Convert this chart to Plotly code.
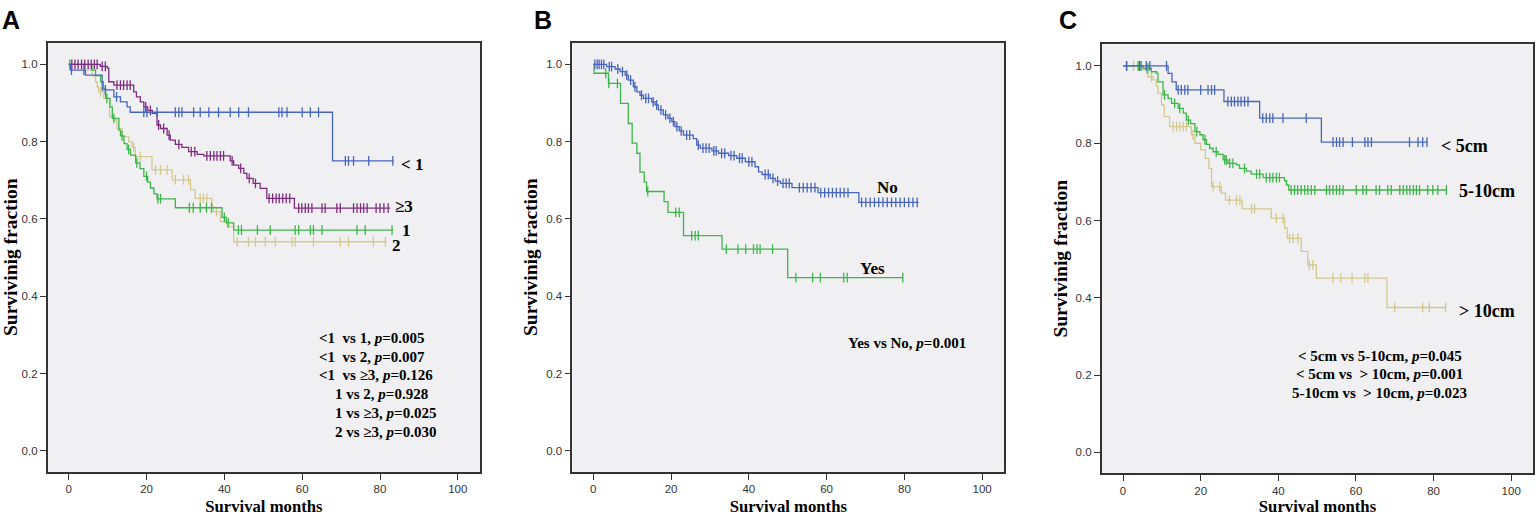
import numpy as np
import plotly.graph_objects as go

# ---------------- Panel A: number of ... (<1, 1, 2, >=3) ----------------
a_lt1_t = [0, 0.4, 4.3, 8.6, 11.6, 13.3, 15.0, 15.8, 67.8]
a_lt1_s = [1.0, 0.985, 0.972, 0.934, 0.916, 0.903, 0.890, 0.876, 0.750]
a_lt1_end = 83.5
a_lt1_cens = [0.7, 3.9, 9.4, 12.3, 19.3, 20.1, 22.7, 27.4, 28.3, 29.1, 32.1, 33.8,
              36.0, 38.5, 41.5, 43.7, 46.2, 54.0, 54.8, 56.1, 60.0, 62.1, 64.2,
              71.1, 71.9, 73.2, 77.1, 83.3]

a_ge3_t = [0, 8.1, 9.9, 10.3, 11.6, 16.7, 17.4, 18.4, 19.3, 20.3, 21.5, 22.7, 23.6,
           25.3, 26.1, 27.4, 29.1, 30.8, 33.0, 34.7, 41.5, 42.4, 43.7, 45.0, 45.8,
           47.4, 49.2, 50.9, 58.0]
a_ge3_s = [1.0, 0.995, 0.99, 0.955, 0.946, 0.929, 0.916, 0.903, 0.89, 0.881, 0.873,
           0.843, 0.834, 0.817, 0.804, 0.793, 0.785, 0.774, 0.767, 0.763, 0.75, 0.739,
           0.731, 0.718, 0.705, 0.692, 0.679, 0.653, 0.628]
a_ge3_end = 82.6
a_ge3_cens = [0.8, 1.6, 2.4, 3.3, 4.1, 5.0, 5.8, 6.6, 7.3, 8.6, 9.4, 12.4, 13.3, 14.1,
              15.0, 15.8, 19.8, 21.0, 23.1, 24.4, 25.8, 28.3, 31.5, 32.4, 35.5, 36.4,
              37.3, 38.1, 39.0, 39.8, 42.0, 44.2, 46.4, 48.0, 51.5, 52.4, 53.3, 54.1,
              55.0, 55.9, 56.8, 59.1, 59.9, 60.8, 61.6, 62.5, 65.1, 65.9, 68.9, 69.8,
              73.2, 74.1, 75.0, 75.8, 76.7, 79.0, 80.0, 81.0, 82.1]

a_1_t = [0, 6.0, 6.9, 8.2, 8.9, 9.5, 10.6, 11.2, 12.9, 13.3, 14.2, 15.0, 15.9, 17.2,
         18.3, 19.3, 20.3, 21.0, 21.9, 22.7, 27.4, 39.4, 40.5, 42.4]
a_1_s = [1.0, 0.985, 0.971, 0.955, 0.938, 0.912, 0.89, 0.86, 0.83, 0.815, 0.795, 0.78,
         0.765, 0.745, 0.73, 0.71, 0.695, 0.68, 0.665, 0.652, 0.629, 0.604, 0.59, 0.571]
a_1_end = 83.3
a_1_cens = [0.3, 9.8, 11.6, 13.7, 15.4, 17.5, 20.0, 22.9, 23.6, 31.0, 32.0, 33.8, 35.4,
            36.7, 40.0, 41.0, 43.6, 44.4, 48.5, 51.8, 58.2, 59.1, 62.1, 62.9, 65.1,
            74.1, 76.2, 83.1]

a_2_t = [0, 4.3, 6.0, 6.9, 7.3, 7.7, 9.0, 10.5, 11.6, 12.4, 13.7, 15.4, 16.3, 17.1,
         21.4, 26.6, 31.3, 32.5, 36.8, 37.2, 39.0, 40.7, 42.4]
a_2_s = [1.0, 0.985, 0.97, 0.955, 0.942, 0.929, 0.912, 0.865, 0.856, 0.834, 0.813, 0.8,
         0.785, 0.761, 0.727, 0.701, 0.675, 0.653, 0.632, 0.619, 0.593, 0.58, 0.541]
a_2_end = 81.8
a_2_cens = [8.2, 16.7, 18.4, 22.3, 23.6, 25.3, 27.4, 29.5, 30.8, 33.8, 34.6, 35.5, 38.0,
            43.3, 46.2, 48.0, 50.5, 53.1, 57.4, 58.2, 62.9, 69.8, 71.9, 78.3, 81.4]

a_pvals = ["&lt;1\u00a0\u00a0vs 1, <i>p</i>=0.005",
           "&lt;1\u00a0\u00a0vs 2, <i>p</i>=0.007",
           "&lt;1\u00a0\u00a0vs \u22653, <i>p</i>=0.126",
           "1 vs 2, <i>p</i>=0.928",
           "1 vs \u22653, <i>p</i>=0.025",
           "2 vs \u22653, <i>p</i>=0.030"]

# ---------------- Panel B: Yes / No ----------------
b_no_t = [0, 3.4, 5.6, 6.9, 8.2, 9.0, 10.3, 11.2, 12.0, 12.9, 15.0, 15.9, 16.7, 18.0,
          19.2, 20.2, 21.0, 22.1, 23.2, 25.7, 26.6, 27.5, 30.5, 32.2, 34.8, 36.9, 39.1,
          41.6, 42.5, 43.4, 45.5, 46.8, 48.1, 51.1, 57.8, 68.3]
b_no_s = [1.0, 0.994, 0.988, 0.981, 0.972, 0.959, 0.942, 0.929, 0.92, 0.912, 0.903,
          0.895, 0.882, 0.869, 0.86, 0.852, 0.839, 0.828, 0.817, 0.808, 0.791, 0.783,
          0.776, 0.77, 0.764, 0.757, 0.748, 0.735, 0.722, 0.715, 0.705, 0.698, 0.692,
          0.681, 0.668, 0.643]
b_no_end = 83.7
b_no_cens = [0.4, 1.0, 1.5, 2.1, 2.7, 4.1, 4.7, 6.3, 7.5, 8.6, 9.6, 10.7, 12.4, 13.5,
             14.2, 15.4, 16.3, 17.4, 18.6, 19.7, 20.6, 21.5, 22.6, 24.0, 24.8, 27.0,
             28.2, 29.0, 29.8, 31.0, 31.6, 33.0, 33.8, 35.4, 36.2, 37.6, 38.3, 40.0,
             40.8, 44.2, 45.0, 46.2, 47.4, 48.8, 49.6, 50.4, 53.0, 54.0, 55.0, 56.0,
             57.0, 58.5, 59.5, 60.5, 61.5, 62.5, 63.5, 64.5, 65.5, 69.0, 70.1, 71.2,
             72.3, 73.4, 74.5, 75.6, 76.7, 77.8, 78.9, 80.0, 81.1, 82.2, 83.3]

b_yes_t = [0, 0.2, 3.9, 7.0, 9.0, 10.0, 11.2, 12.0, 13.1, 13.7, 18.2, 19.2, 23.2, 33.1, 50.0]
b_yes_s = [1.0, 0.977, 0.951, 0.899, 0.847, 0.796, 0.77, 0.721, 0.695, 0.671, 0.645,
           0.617, 0.557, 0.522, 0.448]
b_yes_end = 79.6
b_yes_cens = [3.2, 4.0, 6.2, 14.0, 21.2, 22.1, 25.3, 26.2, 27.0, 34.2, 37.2, 39.2, 41.2,
              42.1, 42.9, 46.1, 52.1, 56.4, 58.4, 64.4, 65.3, 79.6]

b_pval = "Yes vs No, <i>p</i>=0.001"

# ---------------- Panel C: tumour size ----------------
c_lt5_t = [0, 11.6, 12.6, 13.7, 26.0, 35.2, 51.1]
c_lt5_s = [1.0, 0.981, 0.959, 0.938, 0.908, 0.865, 0.803]
c_lt5_end = 78.5
c_lt5_cens = [0.9, 4.3, 6.0, 6.9, 11.2, 14.2, 15.0, 15.9, 16.7, 20.0, 21.9, 22.8, 23.6,
              27.0, 27.9, 28.7, 29.6, 30.4, 31.3, 32.2, 36.0, 36.9, 37.8, 38.6, 41.2,
              47.2, 54.1, 55.0, 55.8, 56.7, 59.1, 62.3, 63.1, 64.0, 73.8, 76.0, 77.2, 78.3]

c_5to10_t = [0, 5.2, 7.3, 8.6, 9.0, 10.3, 11.6, 12.5, 14.2, 15.5, 16.3, 17.4, 18.5, 19.8,
             20.6, 21.5, 22.3, 23.2, 24.5, 25.8, 27.0, 29.2, 30.0, 31.8, 33.0, 36.1,
             41.6, 42.1, 42.7]
c_5to10_s = [1.0, 0.994, 0.985, 0.981, 0.959, 0.925, 0.916, 0.903, 0.89, 0.878, 0.86,
             0.851, 0.83, 0.822, 0.809, 0.797, 0.787, 0.778, 0.771, 0.757, 0.748, 0.744,
             0.735, 0.728, 0.72, 0.711, 0.703, 0.692, 0.679]
c_5to10_end = 83.3
c_5to10_cens = [0.9, 3.9, 4.3, 4.7, 6.4, 10.7, 13.3, 14.6, 16.8, 19.0, 21.1, 24.0, 26.2,
                26.6, 27.5, 28.3, 31.3, 34.4, 35.2, 36.9, 37.8, 38.6, 39.5, 40.3, 43.3,
                44.2, 45.0, 45.9, 46.8, 47.6, 48.5, 49.4, 52.4, 53.2, 54.1, 55.0, 55.8,
                56.7, 60.1, 61.8, 62.7, 65.2, 66.1, 68.2, 69.1, 71.3, 72.2, 73.1, 73.9,
                74.8, 75.6, 76.4, 78.5, 79.8, 81.1, 83.3]

c_gt10_t = [0, 5.2, 6.0, 6.4, 7.7, 8.6, 9.0, 9.9, 10.6, 12.0, 17.6, 18.5, 20.0, 21.2,
            22.1, 22.8, 25.3, 26.4, 30.7, 38.2, 41.6, 42.3, 45.9, 47.6, 49.8, 68.0]
c_gt10_s = [1.0, 0.99, 0.981, 0.972, 0.964, 0.947, 0.929, 0.899, 0.869, 0.843, 0.822,
            0.8, 0.783, 0.761, 0.735, 0.688, 0.671, 0.653, 0.63, 0.606, 0.58, 0.554,
            0.52, 0.485, 0.451, 0.375]
c_gt10_end = 83.3
c_gt10_cens = [1.0, 2.7, 3.9, 7.3, 12.9, 13.8, 14.6, 15.5, 16.3, 18.0, 23.2, 24.9, 27.4,
               29.2, 30.1, 33.1, 33.9, 39.5, 41.2, 42.9, 43.8, 45.1, 48.0, 48.9, 54.1,
               56.1, 59.0, 62.3, 63.1, 70.0, 77.2, 78.9, 83.1]

c_pvals = ["&lt;\u00a05cm vs 5-10cm, <i>p</i>=0.045",
           "&lt;\u00a05cm vs \u00a0&gt;\u00a010cm, <i>p</i>=0.001",
           "5-10cm vs \u00a0&gt;\u00a010cm, <i>p</i>=0.023"]

x_ticks = [0, 20, 40, 60, 80, 100]
y_ticks = [0.0, 0.2, 0.4, 0.6, 0.8, 1.0]

BLUE = "#4865BD"
PURPLE = "#7E2C80"
GREEN = "#3EB54A"
TAN = "#D3C98E"
SERIF = "Liberation Serif"
SANS = "Liberation Sans"

fig = go.Figure()


def add_km(times, surv, end, cens, color, ax):
    """Step line plus '+' censor ticks for one Kaplan-Meier curve."""
    xs = list(times) + [end]
    ys = list(surv) + [surv[-1]]
    fig.add_trace(go.Scatter(x=xs, y=ys, mode="lines", line_shape="hv",
                             line=dict(color=color, width=1.3),
                             xaxis="x" + ax, yaxis="y" + ax, showlegend=False,
                             hoverinfo="skip"))
    idx = np.searchsorted(times, cens, side="right") - 1
    cy = np.array(surv)[idx]
    fig.add_trace(go.Scatter(x=cens, y=cy, mode="markers",
                             marker=dict(symbol="line-ns", size=7,
                                         line=dict(color=color, width=1.3)),
                             xaxis="x" + ax, yaxis="y" + ax, showlegend=False,
                             hoverinfo="skip"))


# panel A (axis "")
add_km(a_2_t, a_2_s, a_2_end, a_2_cens, TAN, "")
add_km(a_1_t, a_1_s, a_1_end, a_1_cens, GREEN, "")
add_km(a_ge3_t, a_ge3_s, a_ge3_end, a_ge3_cens, PURPLE, "")
add_km(a_lt1_t, a_lt1_s, a_lt1_end, a_lt1_cens, BLUE, "")
# panel B
add_km(b_yes_t, b_yes_s, b_yes_end, b_yes_cens, GREEN, "2")
add_km(b_no_t, b_no_s, b_no_end, b_no_cens, BLUE, "2")
# panel C
add_km(c_gt10_t, c_gt10_s, c_gt10_end, c_gt10_cens, TAN, "3")
add_km(c_5to10_t, c_5to10_s, c_5to10_end, c_5to10_cens, GREEN, "3")
add_km(c_lt5_t, c_lt5_s, c_lt5_end, c_lt5_cens, BLUE, "3")

W, H = 1536, 516


def xdom(left, right):
    return [left / W, right / W]


def ydom(top, bottom):
    return [1 - bottom / H, 1 - top / H]


common_x = dict(range=[-5.4, 105.7], tickvals=x_ticks, ticks="outside", ticklen=6,
                tickwidth=1.3, tickcolor="#333", showline=True, linecolor="#333",
                linewidth=1.6, mirror=True, showgrid=False, zeroline=False,
                tickfont=dict(family=SANS, size=11.5, color="#333"),
                title=dict(text="<b>Survival months</b>", standoff=7,
                           font=dict(family=SERIF, size=16.7, color="black")))
common_y = dict(range=[-0.054, 1.056], tickvals=y_ticks, tickformat=".1f",
                ticks="outside", ticklen=6, tickwidth=1.3, tickcolor="#333",
                showline=True, linecolor="#333", linewidth=1.6, mirror=True,
                showgrid=False, zeroline=False,
                tickfont=dict(family=SANS, size=11.5, color="#333"),
                title=dict(text="<b>Survivinig fraction</b>", standoff=3,
                           font=dict(family=SERIF, size=19.5, color="black")))

fig.update_layout(
    width=W, height=H, margin=dict(l=0, r=0, t=0, b=0),
    paper_bgcolor="white", plot_bgcolor="#F0F0F2",
    xaxis=dict(common_x, domain=xdom(47.7, 480), anchor="y"),
    yaxis=dict(common_y, domain=ydom(42.7, 471.7), anchor="x"),
    xaxis2=dict(common_x, domain=xdom(572.3, 1004.3), anchor="y2"),
    yaxis2=dict(common_y, domain=ydom(42.7, 471.7), anchor="x2"),
    xaxis3=dict(common_x, domain=xdom(1101.7, 1533.3), anchor="y3"),
    yaxis3=dict(common_y, domain=ydom(44.3, 473.3), anchor="x3"),
)
fig.update_layout(xaxis3_range=[-5.5, 105.7])

ann = []


def label(text, x, y, ax, size=17, xanchor="left"):
    ann.append(dict(text="<b>" + text + "</b>", x=x, y=y, xref="x" + ax, yref="y" + ax,
                    showarrow=False, xanchor=xanchor, yanchor="middle",
                    font=dict(family=SERIF, size=size, color="black")))


# curve labels
label("&lt;\u00a01", 85.0, 0.742, "")
label("\u22653", 83.4, 0.631, "")
label("1", 85.2, 0.571, "")
label("2", 82.6, 0.531, "")
label("No", 72.5, 0.681, "2")
label("Yes", 68.2, 0.471, "2")
label("&lt;\u00a05cm", 81.3, 0.794, "3", size=18)
label("5-10cm", 86.0, 0.677, "3", size=18)
label("&gt;\u00a010cm", 86.0, 0.366, "3", size=18)

# p-value blocks
a_pval_x = [63.8, 63.8, 63.8, 68.0, 68.0, 68.0]
a_pval_y = [0.291, 0.244, 0.195, 0.147, 0.097, 0.050]
for txt, px, py in zip(a_pvals, a_pval_x, a_pval_y):
    label(txt, px, py, "", size=15)
label(b_pval, 65.0, 0.279, "2", size=15)
c_pval_y = [0.250, 0.203, 0.154]
for txt, py in zip(c_pvals, c_pval_y):
    label(txt, 66.1, py, "3", size=15, xanchor="center")

# panel letters
for letter, px in [("A", 0), ("B", 532), ("C", 1057)]:
    ann.append(dict(text="<b>" + letter + "</b>", x=px / W, y=1 - 4 / H,
                    xref="paper", yref="paper", showarrow=False,
                    xanchor="left", yanchor="top",
                    font=dict(family=SANS, size=25, color="black")))

fig.update_layout(annotations=ann)
# the page body has a default 8px margin; drop it so the figure fills the window
fig.write_html("out.html", config={"displayModeBar": False},
               post_script="document.body.style.margin='0px';")
